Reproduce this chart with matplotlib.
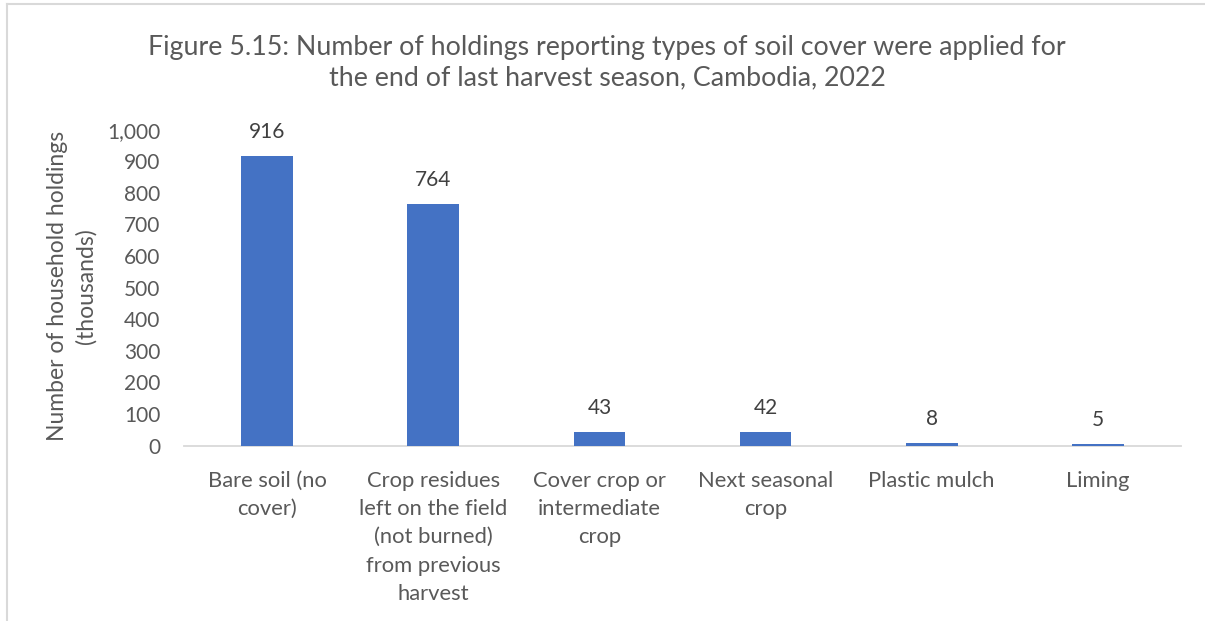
import matplotlib
matplotlib.use("Agg")
import matplotlib.pyplot as plt
from matplotlib.lines import Line2D

categories = ["Bare soil (no\ncover)",
              "Crop residues\nleft on the field\n(not burned)\nfrom previous\nharvest",
              "Cover crop or\nintermediate\ncrop",
              "Next seasonal\ncrop",
              "Plastic mulch",
              "Liming"]
values = [916, 764, 43, 42, 8, 5]
yticks = [0, 100, 200, 300, 400, 500, 600, 700, 800, 900, 1000]
ytick_labels = ["0", "100", "200", "300", "400", "500", "600", "700", "800", "900", "1,000"]
title = ("Figure 5.15: Number of holdings reporting types of soil cover were applied for\n"
         "the end of last harvest season, Cambodia, 2022")
ylabel = "Number of household holdings\n(thousands)"

plt.rcParams['font.family'] = ['Lato', 'DejaVu Sans']

W, H = 1205, 621
fig = plt.figure(figsize=(W / 100, H / 100), dpi=100)

# chart border (clipped on right/bottom)
fig.add_artist(Line2D([7 / W, 7 / W], [0, 1 - 4 / H], transform=fig.transFigure,
                      color="#D9D9D9", lw=1.5))
fig.add_artist(Line2D([7 / W, 1], [1 - 4 / H, 1 - 4 / H], transform=fig.transFigure,
                      color="#D9D9D9", lw=1.5))

left, right = 184 / W, 1181 / W
bottom = 1 - 445.7 / H
top = 1 - 129.7 / H
ax = fig.add_axes([left, bottom, right - left, top - bottom])

x = list(range(len(categories)))
bars = ax.bar(x, values, width=0.31, color="#4472C4", zorder=3)
ax.set_xlim(-0.5, len(categories) - 0.5)
ax.set_ylim(0, 1000)
ax.set_yticks(yticks)
ax.set_yticklabels(ytick_labels)
ax.set_xticks(x)
ax.set_xticklabels(categories, linespacing=1.52, va="top", fontsize=15.8)

for s in ["top", "right", "left"]:
    ax.spines[s].set_visible(False)
ax.spines["bottom"].set_color("#D9D9D9")
ax.spines["bottom"].set_linewidth(1.3)
ax.spines["bottom"].set_zorder(2)
ax.tick_params(axis="y", length=0, labelsize=15, colors="#595959", pad=17)
ax.tick_params(axis="x", length=0, colors="#595959", pad=18)

for xi, v in zip(x, values):
    ax.annotate(f"{v}", (xi, v), xytext=(0, 24), textcoords="offset pixels",
                ha="center", va="center", fontsize=15, color="#404040",
                annotation_clip=False)

fig.text(72 / W, 1 - 286 / H, ylabel, rotation=90, ha="center", va="center",
         fontsize=16.5, color="#595959", linespacing=1.4)
fig.text(607 / W, 1 - 63 / H, title, ha="center", va="center",
         fontsize=19.3, color="#595959", linespacing=1.25)

fig.savefig("out.png", dpi=100, facecolor="white")
